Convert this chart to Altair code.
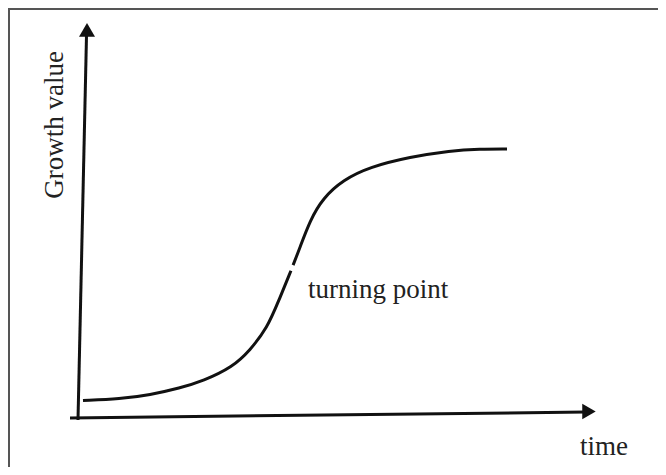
import altair as alt
import pandas as pd

# S-shaped growth curve (time, growth value), split at the turning point gap
curve_a_t = [0.7, 9.4, 16.4, 23.4, 28.8, 35.8, 39.8, 43.8, 46.6, 49.4]
curve_a_g = [5.8, 6.4, 7.9, 10.5, 13.1, 18.4, 24.6, 32.8, 43.4, 54.4]
curve_b_t = [49.9, 51.3, 53.9, 56.9, 61.6, 67.9, 77.3, 86.7, 93.7, 100.0]
curve_b_g = [56.5, 62.2, 73.4, 81.6, 88.4, 93.3, 97.0, 99.4, 100.0, 100.0]

# hand-drawn axes (start and end in data units)
axis_t = [-0.47, -2.34]
axis_g = [-1.5, -0.75]
axis_t2 = [1.52, 118.5]
axis_g2 = [142.3, 1.5]

# arrow heads
arrow_up_t, arrow_up_g = [1.64], [144.6]
arrow_right_t, arrow_right_g = [119.2], [1.7]

# labels
label_text = ["Growth value", "turning point", "time"]
label_t = [-5.85, 53.4, 117.1]
label_g = [109.0, 44.2, -14.6]

curve = pd.DataFrame({
    "t": curve_a_t + curve_b_t,
    "g": curve_a_g + curve_b_g,
    "seg": ["a"] * len(curve_a_t) + ["b"] * len(curve_b_t),
})
axes = pd.DataFrame({"t": axis_t, "g": axis_g, "t2": axis_t2, "g2": axis_g2})
up = pd.DataFrame({"t": arrow_up_t, "g": arrow_up_g})
right = pd.DataFrame({"t": arrow_right_t, "g": arrow_right_g})
labels = pd.DataFrame({"text": label_text, "t": label_t, "g": label_g})

xs = alt.Scale(domain=[0, 100], range=[72, 499], nice=False, zero=False)
ys = alt.Scale(domain=[0, 100], range=[408, 141], nice=False, zero=False)
X = alt.X("t:Q", scale=xs, axis=None)
Y = alt.Y("g:Q", scale=ys, axis=None)

ink = "#111111"
font = "Liberation Serif"

frame_top = alt.Chart(pd.DataFrame({"a": [0]})).mark_rule(color="#555555", strokeWidth=2).encode(
    x=alt.value(0), x2=alt.value(650), y=alt.value(1))
frame_left = alt.Chart(pd.DataFrame({"a": [0]})).mark_rule(color="#555555", strokeWidth=2).encode(
    x=alt.value(1), y=alt.value(0), y2=alt.value(459))

curve_layer = alt.Chart(curve).mark_line(
    interpolate="basis", strokeWidth=3, color=ink, strokeCap="butt"
).encode(x=X, y=Y, detail="seg:N")

axes_layer = alt.Chart(axes).mark_rule(strokeWidth=3, color=ink).encode(
    x=X, y=Y, x2="t2:Q", y2="g2:Q")

up_layer = alt.Chart(up).mark_point(
    shape="triangle-up", size=256, filled=True, color=ink, opacity=1, strokeWidth=0
).encode(x=X, y=Y)
right_layer = alt.Chart(right).mark_point(
    shape="triangle-right", size=240, filled=True, color=ink, opacity=1, strokeWidth=0
).encode(x=X, y=Y)

ylab = alt.Chart(labels.iloc[[0]]).mark_text(
    font=font, fontSize=27, color="#222222", angle=270, align="center", baseline="middle"
).encode(x=X, y=Y, text="text:N")
other_lab = alt.Chart(labels.iloc[1:]).mark_text(
    font=font, fontSize=27, color="#222222", align="left", baseline="alphabetic"
).encode(x=X, y=Y, text="text:N")

chart = alt.layer(
    frame_top, frame_left, axes_layer, curve_layer, up_layer, right_layer, ylab, other_lab
).properties(
    width=650, height=459, padding=0, autosize=alt.AutoSizeParams(type="none"),
    background="white"
).configure_view(stroke=None)

chart.save("out.html", embed_options={"renderer": "svg", "actions": False})
